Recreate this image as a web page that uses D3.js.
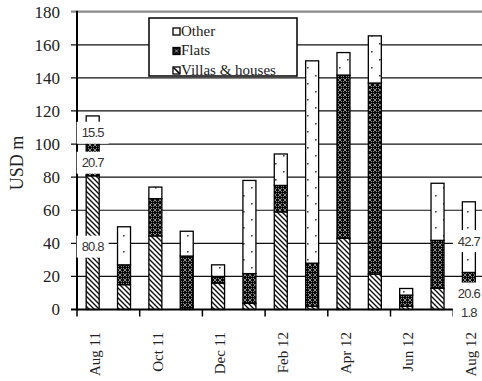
<!DOCTYPE html>
<html>
<head>
<meta charset="utf-8">
<script src="https://cdn.jsdelivr.net/npm/d3@7"></script>
<style>
  html, body { margin: 0; padding: 0; background: #fff; }
  svg { display: block; }
</style>
</head>
<body>
<svg id="chart" width="482" height="381"></svg>
<script>
// Monthly property sales, USD m
const months = ["Aug 11","Sep 11","Oct 11","Nov 11","Dec 11","Jan 12","Feb 12",
                "Mar 12","Apr 12","May 12","Jun 12","Jul 12","Aug 12"];
const villas = [80.8, 15, 44.5, 0, 16, 3.7, 59, 2, 43, 21.4, 2, 12.8, 1.8];
const flats  = [20.7, 12, 22.5, 32.3, 4, 18, 16, 26, 98.7, 115.5, 6.7, 29, 20.6];
const other  = [15.5, 23, 7, 15, 7, 56.3, 19, 122.3, 13.6, 28.5, 4, 34.5, 42.7];
const seriesNames = ["Villas & houses", "Flats", "Other"];
const legendOrder = ["Other", "Flats", "Villas & houses"];
const yTicks = [0, 20, 40, 60, 80, 100, 120, 140, 160, 180];
const xTickLabels = ["Aug 11","Oct 11","Dec 11","Feb 12","Apr 12","Jun 12","Aug 12"];
const labelledMonths = ["Aug 11", "Aug 12"];

const svg = d3.select("#chart");
const left = 77, step = 31.35, barW = 13;
const pIn = 1 - barW / step;

const x = d3.scaleBand().domain(months)
  .range([left, left + step * months.length])
  .paddingInner(pIn).paddingOuter(pIn / 2);
const y = d3.scaleLinear().domain([0, 180]).range([309.5, 11.7]);

const rows = months.map((m, i) => ({
  month: m, "Villas & houses": villas[i], "Flats": flats[i], "Other": other[i]
}));
const stack = d3.stack().keys(seriesNames)(rows);

// fill patterns
const defs = svg.append("defs");
const pOther = defs.append("pattern").attr("id", "pat-other")
  .attr("patternUnits", "userSpaceOnUse").attr("width", 16).attr("height", 16);
pOther.append("rect").attr("width", 16).attr("height", 16).attr("fill", "#fff");
pOther.append("rect").attr("x", 3).attr("y", 3).attr("width", 1.6).attr("height", 1.6).attr("fill", "#444");
pOther.append("rect").attr("x", 11).attr("y", 11).attr("width", 1.6).attr("height", 1.6).attr("fill", "#444");

const pFlats = defs.append("pattern").attr("id", "pat-flats")
  .attr("patternUnits", "userSpaceOnUse").attr("width", 5).attr("height", 5);
pFlats.append("rect").attr("width", 5).attr("height", 5).attr("fill", "#0a0a0a");
pFlats.append("path").attr("d", "M0,0L5,5M5,0L0,5")
  .attr("stroke", "#9a9a9a").attr("stroke-width", 0.9);
pFlats.append("rect").attr("x", 2).attr("y", 2).attr("width", 1).attr("height", 1).attr("fill", "#000");

const pVillas = defs.append("pattern").attr("id", "pat-villas")
  .attr("patternUnits", "userSpaceOnUse").attr("width", 5).attr("height", 5);
pVillas.append("rect").attr("width", 5).attr("height", 5).attr("fill", "#fff");
pVillas.append("path").attr("d", "M-1,-1L6,6M-1,4L1,6M4,-1L6,1")
  .attr("stroke", "#111").attr("stroke-width", 1.4);

const fills = { "Other": "url(#pat-other)", "Flats": "url(#pat-flats)", "Villas & houses": "url(#pat-villas)" };

// gridlines
svg.append("g").selectAll("line").data(yTicks.filter(t => t > 0)).join("line")
  .attr("x1", 71).attr("x2", 482)
  .attr("y1", d => y(d)).attr("y2", d => y(d))
  .attr("stroke", d => d === 180 ? "#8a8a8a" : "#111")
  .attr("stroke-width", d => d === 180 ? 2.2 : 1.2);

// stacked bars
svg.append("g").selectAll("g").data(stack).join("g")
  .attr("fill", d => fills[d.key])
  .selectAll("rect").data(d => d.filter(s => s[1] - s[0] > 0)).join("rect")
  .attr("x", d => x(d.data.month))
  .attr("width", x.bandwidth())
  .attr("y", d => y(d[1]))
  .attr("height", d => y(d[0]) - y(d[1]))
  .attr("stroke", "#000").attr("stroke-width", 1.3);

// axes
svg.append("line").attr("x1", left).attr("x2", left).attr("y1", y(180) - 1).attr("y2", y(0))
  .attr("stroke", "#000").attr("stroke-width", 2);
svg.append("line").attr("x1", 71).attr("x2", 482).attr("y1", y(0)).attr("y2", y(0))
  .attr("stroke", "#000").attr("stroke-width", 2);
const tickIdx = months.map((m, i) => i).filter(i => i % 2 === 0);
svg.append("g").selectAll("line").data(tickIdx).join("line")
  .attr("x1", i => left + i * x.step()).attr("x2", i => left + i * x.step())
  .attr("y1", y(0)).attr("y2", y(0) + 7)
  .attr("stroke", "#000").attr("stroke-width", 1.5);

svg.append("g").selectAll("text").data(yTicks).join("text")
  .attr("x", 60).attr("y", d => y(d)).attr("dy", "0.35em")
  .attr("text-anchor", "end")
  .attr("font-family", "Liberation Serif, Times New Roman, serif")
  .attr("font-size", 17).attr("fill", "#222")
  .text(d => d);

svg.append("g").selectAll("text").data(xTickLabels).join("text")
  .attr("transform", d => `translate(${x(d) + x.bandwidth() / 2 + 2},332) rotate(-90)`)
  .attr("dy", "0.35em").attr("text-anchor", "end")
  .attr("font-family", "Liberation Serif, Times New Roman, serif")
  .attr("font-size", 15).attr("fill", "#222")
  .text(d => d);

svg.append("text")
  .attr("transform", "translate(23,163) rotate(-90)")
  .attr("text-anchor", "middle")
  .attr("font-family", "Liberation Serif, Times New Roman, serif")
  .attr("font-size", 18).attr("fill", "#222")
  .text("USD m");

// value labels on the first and last month
const labelData = [];
stack.forEach(s => s.forEach(seg => {
  if (labelledMonths.includes(seg.data.month)) labelData.push({
    cx: x(seg.data.month) + x.bandwidth() / 2,
    cy: y((seg[0] + seg[1]) / 2) + 4,
    value: seg[1] - seg[0]
  });
}));
const lg = svg.append("g").selectAll("g").data(labelData).join("g")
  .attr("transform", d => `translate(${d.cx},${d.cy})`);
lg.append("rect").attr("x", -16).attr("y", -11).attr("width", 32).attr("height", 22).attr("fill", "#fff");
lg.append("text").attr("text-anchor", "middle").attr("dy", "0.36em")
  .attr("font-family", "Liberation Sans, Arial, sans-serif")
  .attr("font-size", 13).attr("letter-spacing", -0.8).attr("fill", "#333")
  .text(d => d.value.toFixed(1));

// legend
const leg = svg.append("g").attr("transform", "translate(149,18)");
leg.append("rect").attr("width", 148).attr("height", 58)
  .attr("fill", "#fff").attr("stroke", "#000").attr("stroke-width", 1.5);
const li = leg.selectAll("g").data(legendOrder).join("g")
  .attr("transform", (d, i) => `translate(24,${10 + i * 19.5})`);
li.append("rect").attr("width", 7).attr("height", 7)
  .attr("fill", d => d === "Flats" ? "#111" : "#fff")
  .attr("stroke", "#000").attr("stroke-width", 1.3);
li.filter(d => d === "Villas & houses").append("path")
  .attr("d", "M0.5,0.5L6.5,6.5").attr("stroke", "#000").attr("stroke-width", 1.6);
li.filter(d => d === "Flats").append("path")
  .attr("d", "M2,2L5,5M5,2L2,5").attr("stroke", "#aaa").attr("stroke-width", 0.9);
li.append("text").attr("x", 8).attr("y", 7.5)
  .attr("font-family", "Liberation Serif, Times New Roman, serif")
  .attr("font-size", 15).attr("fill", "#222")
  .text(d => d);
</script>
</body>
</html>
